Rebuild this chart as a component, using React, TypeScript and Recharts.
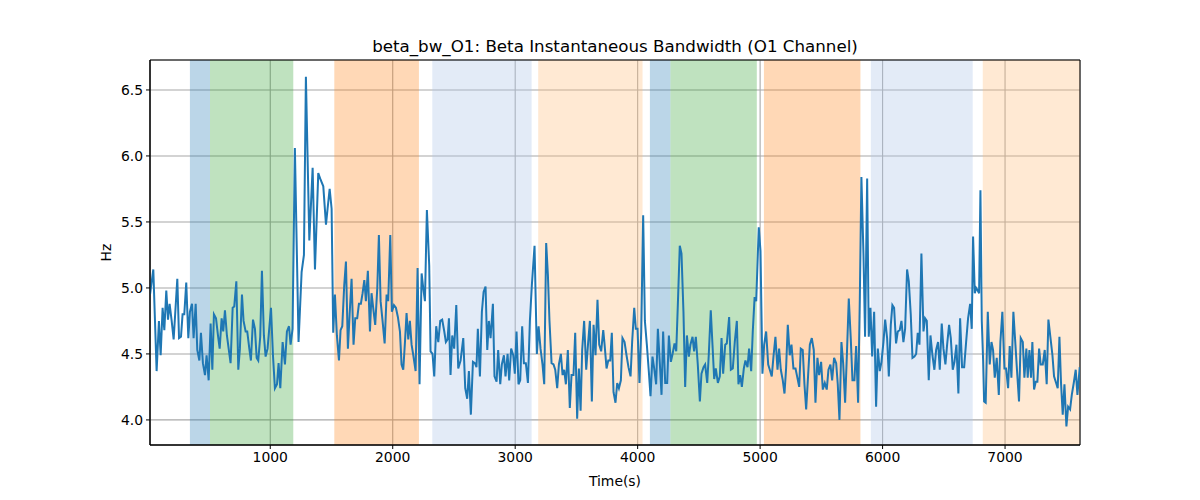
import React from 'react';
import { LineChart, Line, XAxis, YAxis, CartesianGrid, ReferenceArea, Label } from 'recharts';

const FONT = '"DejaVu Sans", sans-serif';
const TITLE = 'beta_bw_O1: Beta Instantaneous Bandwidth (O1 Channel)';
const X_LABEL = 'Time(s)';
const Y_LABEL = 'Hz';

const xTicks = [1000, 2000, 3000, 4000, 5000, 6000, 7000];
const yTicks = [4.0, 4.5, 5.0, 5.5, 6.0, 6.5];
const xDomain = [18, 7612];
const yDomain = [3.81, 6.727];

const spanStarts = [344, 508, 1523, 2323, 3188, 4100, 4268, 5031, 5904, 6818];
const spanEnds = [508, 1188, 2214, 3134, 4040, 4268, 4973, 5819, 6736, 7612];
const spanKinds = ['blue', 'green', 'orange', 'lightblue', 'lightorange', 'blue', 'green', 'orange', 'lightblue', 'lightorange'];

const spanColors: Record<string, [string, number]> = {
  blue: ['#1f77b4', 0.3],
  green: ['#2ca02c', 0.3],
  orange: ['#ff7f0e', 0.3],
  lightblue: ['#aec7e8', 0.35],
  lightorange: ['#ffbb78', 0.33],
};

const times = [
  18, 45, 72, 91, 105, 121, 135, 151, 165, 178, 195, 211, 241, 255, 271, 284, 298, 314, 331, 344,
  361, 374, 391, 404, 421, 434, 450, 467, 480, 497, 513, 527, 540, 557, 573, 587, 603, 616, 630, 646,
  676, 693, 706, 723, 739, 752, 769, 782, 799, 812, 829, 842, 859, 875, 889, 902, 918, 932, 948, 962,
  978, 1006, 1022, 1038, 1055, 1068, 1082, 1101, 1120, 1136, 1153, 1166, 1182, 1201, 1231, 1256,
  1275, 1291, 1319, 1346, 1365, 1392, 1411, 1433, 1455, 1468, 1485, 1501, 1514, 1528, 1544, 1561, 1574, 1588,
  1604, 1618, 1634, 1648, 1664, 1680, 1694, 1710, 1724, 1740, 1754, 1768, 1781, 1797, 1814, 1827, 1844, 1857,
  1874, 1887, 1901, 1917, 1934, 1950, 1963, 1980, 1993, 2010, 2026, 2042, 2059, 2072, 2086, 2100, 2113, 2127,
  2140, 2154, 2168, 2187, 2203, 2219, 2236, 2249, 2263, 2279, 2298, 2309, 2325, 2339, 2355, 2372, 2388, 2404,
  2421, 2434, 2448, 2459, 2472, 2486, 2502,
  2519, 2535, 2554, 2576, 2592, 2608, 2622, 2638, 2655, 2671, 2684, 2695, 2712, 2728, 2742, 2758, 2772, 2785,
  2799, 2818, 2831, 2848, 2861, 2878, 2891, 2908, 2921, 2938, 2951, 2967, 2984, 2997, 3011, 3027, 3041, 3057,
  3071, 3087, 3104, 3120, 3136, 3158, 3177, 3191, 3207, 3223, 3237, 3253, 3267, 3280, 3297, 3313, 3327, 3343,
  3357, 3373, 3387, 3400, 3414, 3430, 3446, 3460, 3476, 3490, 3506, 3520, 3534, 3547, 3563, 3580, 3596, 3610,
  3626, 3640, 3656, 3672, 3686, 3702, 3719,
  3730, 3746, 3760, 3776, 3789, 3803, 3819, 3833, 3847, 3863, 3876, 3893, 3909, 3925, 3942, 3955, 3972, 3985,
  3999, 4015, 4029, 4045, 4059, 4075, 4091, 4105, 4121, 4135, 4151, 4165, 4181, 4195, 4208, 4225, 4241, 4255,
  4271, 4285, 4301, 4315, 4328, 4344, 4358, 4374, 4388, 4402, 4418, 4431, 4448, 4461, 4475, 4491, 4508, 4521,
  4538, 4551, 4568, 4581, 4597, 4611, 4625, 4638, 4655, 4671, 4685, 4698, 4715, 4728, 4747, 4761, 4777, 4793,
  4810, 4823, 4837, 4851, 4867, 4880, 4897, 4910, 4927, 4940,
  4955, 4968, 4989, 5003, 5019, 5033, 5049, 5066, 5079, 5095, 5109, 5125, 5142, 5155, 5169, 5185, 5199, 5212,
  5226, 5242, 5256, 5272, 5289, 5302, 5319, 5332, 5348, 5362, 5376, 5392, 5406, 5422, 5438, 5452, 5468, 5482,
  5498, 5512, 5528, 5544, 5558, 5574, 5588, 5604, 5621, 5634, 5648, 5664, 5678, 5694, 5708, 5724, 5740, 5754,
  5770, 5784, 5800, 5814, 5827, 5844, 5857, 5874, 5887, 5901, 5915, 5931, 5947, 5961, 5977, 5991, 6007, 6021,
  6037, 6051, 6067, 6080, 6094, 6110, 6124, 6140, 6154, 6170,
  6184, 6200, 6214, 6230, 6244, 6260, 6274, 6287, 6301, 6317, 6334, 6347, 6361, 6377, 6391, 6407, 6423, 6437,
  6453, 6467, 6483, 6497, 6513, 6527, 6543, 6557, 6573, 6587, 6603, 6619, 6633, 6649, 6666, 6682, 6698, 6715,
  6728, 6739, 6753, 6764, 6777, 6788, 6799, 6810, 6821, 6829, 6842, 6859, 6875, 6889, 6902, 6916, 6932, 6949,
  6962, 6978, 6995, 7008, 7025, 7038, 7052, 7068, 7082, 7098, 7114, 7128, 7145, 7158, 7174, 7185, 7199, 7212,
  7223, 7237, 7251, 7264, 7278, 7291, 7308, 7324, 7340, 7354, 7370, 7387, 7400, 7417, 7430, 7444, 7457, 7471,
  7485, 7501, 7515, 7531, 7545, 7561, 7577, 7591, 7610,
];

const values = [
  4.95, 5.14, 4.37, 4.75, 4.49, 4.85, 4.68, 4.98, 4.76, 4.88, 4.75, 4.61, 5.07, 4.62, 4.63, 4.8, 4.8, 5.04, 4.62, 4.82,
  4.88, 4.62, 4.88, 4.53, 4.45, 4.66, 4.43, 4.34, 4.49, 4.3, 4.73, 4.38, 4.8, 4.77, 4.64, 4.54, 4.77, 4.67, 4.83, 4.64,
  4.43, 4.85, 4.86, 5.05, 4.38, 4.54, 4.95, 4.75, 4.67, 4.67, 4.54, 4.45, 4.76, 4.69, 4.47, 4.45, 4.63, 5.13, 4.64, 4.48,
  4.54, 4.85, 4.49, 4.24, 4.27, 4.43, 4.24, 4.59, 4.42, 4.67, 4.71, 4.57, 4.69, 6.06, 4.59, 5.12,
  5.25, 6.6, 5.36, 5.91, 5.14, 5.87, 5.82, 5.77, 5.48, 5.6, 5.75, 5.6, 4.66, 4.95, 4.64, 4.45, 4.68, 4.71,
  5.02, 5.2, 4.54, 4.8, 5.07, 4.57, 4.77, 4.77, 4.88, 4.88, 4.96, 5.06, 4.9, 5.13, 4.67, 4.96, 4.82, 4.72,
  5.0, 5.4, 4.9, 4.75, 4.58, 4.95, 4.9, 5.4, 4.82, 4.87, 4.85, 4.78, 4.67, 4.42, 4.38, 4.59, 4.81, 4.61,
  4.75, 4.57, 4.49, 4.37, 5.15, 4.27, 5.11, 5.0, 4.9, 5.59, 5.17, 4.52, 4.5, 4.33, 4.71, 4.59, 4.75, 4.76,
  4.67, 4.59, 4.61, 4.77, 4.34, 4.64, 4.54,
  4.87, 4.39, 4.45, 4.62, 4.24, 4.16, 4.37, 4.04, 4.44, 4.43, 4.4, 4.69, 4.33, 4.82, 4.97, 5.01, 4.53, 4.75,
  4.62, 4.88, 4.33, 4.29, 4.53, 4.27, 4.42, 4.49, 4.33, 4.5, 4.3, 4.54, 4.49, 4.35, 4.67, 4.27, 4.3, 4.71,
  4.43, 4.43, 4.28, 4.75, 5.02, 5.32, 4.5, 4.71, 4.54, 4.42, 4.27, 5.34, 5.1, 4.75, 4.43, 4.42, 4.38, 4.24,
  4.42, 4.5, 4.34, 4.38, 4.27, 4.53, 4.09, 4.34, 4.34, 4.66, 4.01, 4.39, 4.07, 4.53, 4.75, 4.38, 4.59, 4.75,
  4.14, 4.72, 4.49, 4.91, 4.57, 4.52, 4.68,
  4.57, 4.39, 4.45, 4.45, 4.66, 4.21, 4.13, 4.28, 4.24, 4.3, 4.62, 4.59, 4.49, 4.4, 4.33, 4.59, 4.85, 4.69,
  4.69, 4.28, 4.67, 5.55, 4.75, 4.57, 4.37, 4.18, 4.48, 4.39, 4.27, 4.69, 4.43, 4.19, 4.67, 4.28, 4.28, 4.64,
  4.44, 4.5, 4.58, 4.52, 4.87, 5.32, 5.26, 4.82, 4.25, 4.64, 4.48, 4.57, 4.63, 4.52, 4.63, 4.42, 4.14, 4.35,
  4.4, 4.42, 4.28, 4.5, 4.83, 4.57, 4.31, 4.39, 4.28, 4.33, 4.62, 4.35, 4.57, 4.58, 4.78, 4.38, 4.39, 4.59,
  4.75, 4.27, 4.34, 4.25, 4.39, 4.45, 4.4, 4.54, 4.37, 4.67,
  4.93, 4.9, 5.46, 5.28, 4.35, 4.57, 4.67, 4.42, 4.38, 4.33, 4.48, 4.63, 4.38, 4.54, 4.38, 4.3, 4.2, 4.39,
  4.72, 4.49, 4.57, 4.39, 4.39, 4.33, 4.25, 4.54, 4.53, 4.27, 4.08, 4.34, 4.57, 4.62, 4.53, 4.13, 4.47, 4.34,
  4.44, 4.23, 4.28, 4.23, 4.38, 4.42, 4.3, 4.47, 4.43, 4.27, 4.0, 4.59, 4.43, 4.13, 4.48, 4.92, 4.62, 4.3,
  4.3, 4.56, 4.13, 4.91, 5.84, 5.25, 4.63, 5.83, 4.63, 4.85, 4.48, 4.82, 4.1, 4.54, 4.37, 4.44, 4.59, 4.76,
  4.62, 4.33, 4.72, 4.87, 4.85, 4.58, 4.67, 4.68, 4.75, 4.59,
  4.69, 5.14, 5.05, 4.8, 4.47, 4.48, 4.5, 4.66, 4.57, 5.26, 4.67, 4.77, 4.75, 4.3, 4.64, 4.49, 4.38, 4.53,
  4.59, 4.38, 4.73, 4.54, 4.42, 4.57, 4.72, 4.62, 4.38, 4.44, 4.57, 4.2, 4.77, 4.4, 4.4, 4.59, 4.77, 4.88,
  4.69, 5.39, 4.96, 5.0, 4.98, 4.96, 5.74, 4.75, 4.45, 4.14, 4.13, 4.82, 4.42, 4.59, 4.53, 4.32, 4.47, 4.19,
  4.59, 4.82, 4.39, 4.39, 4.24, 4.56, 4.32, 4.82, 4.61, 4.37, 4.14, 4.62, 4.59, 4.32, 4.54, 4.32, 4.53, 4.32,
  4.59, 4.23, 4.29, 4.29, 4.54, 4.42, 4.42, 4.53, 4.27, 4.76, 4.63, 4.49, 4.33, 4.28, 4.24, 4.63, 4.28, 4.04,
  4.27, 3.95, 4.1, 4.08, 4.19, 4.28, 4.38, 4.19, 4.4,
];

const data = times.map((t, i) => ({ t, v: values[i] }));

const tickStyle = { fill: '#000', fontSize: 13.9, fontFamily: FONT };

const YLabel = (props: any) => {
  const vb = props.viewBox || {};
  const cx = vb.x + 16;
  const cy = vb.y + vb.height / 2;
  return (
    <text x={cx} y={cy} transform={`rotate(-90, ${cx}, ${cy})`} textAnchor="middle" dominantBaseline="central"
      fontSize={13.9} fontFamily={FONT} fill="#000">{Y_LABEL}</text>
  );
};

const XLabel = (props: any) => {
  const vb = props.viewBox || {};
  const cx = vb.x + vb.width / 2;
  return (
    <text x={cx} y={486} textAnchor="middle" fontSize={13.9} fontFamily={FONT} fill="#000">{X_LABEL}</text>
  );
};

export default function App() {
  return (
    <div style={{ position: 'absolute', left: 0, top: 0, width: 1200, height: 500, background: '#fff' }}>
      <svg style={{ position: 'absolute', left: 0, top: 0 }} width={1200} height={60}>
        <text x={615} y={52} textAnchor="middle" fontSize={16.7} fontFamily={FONT} fill="#000">{TITLE}</text>
      </svg>
      <LineChart width={1200} height={500} data={data} margin={{ top: 60, right: 120, bottom: 14, left: 90 }}>
        <CartesianGrid stroke="#a8a8a8" strokeWidth={1.1} />
        {spanStarts.map((s, i) => (
          <ReferenceArea key={i} x1={s} x2={spanEnds[i]} y1={yDomain[0]} y2={yDomain[1]}
            fill={spanColors[spanKinds[i]][0]} fillOpacity={spanColors[spanKinds[i]][1]} stroke="none" ifOverflow="hidden" />
        ))}
        <XAxis dataKey="t" type="number" domain={xDomain} ticks={xTicks} allowDataOverflow
          height={41} tick={tickStyle} tickSize={4} tickMargin={3} stroke="#000" tickLine={{ stroke: '#000' }}>
          <Label content={<XLabel />} />
        </XAxis>
        <YAxis type="number" domain={yDomain} ticks={yTicks} allowDataOverflow width={60}
          tick={tickStyle} tickSize={4} tickMargin={3} stroke="#000" tickLine={{ stroke: '#000' }}
          tickFormatter={(v: number) => v.toFixed(1)}>
          <Label content={<YLabel />} />
        </YAxis>
        <Line type="linear" dataKey="v" stroke="#1f77b4" strokeWidth={2} dot={false} isAnimationActive={false} />
        <ReferenceArea x1={xDomain[0]} x2={xDomain[1]} y1={yDomain[0]} y2={yDomain[1]} fill="none" stroke="#000" strokeWidth={1} fillOpacity={0} />
      </LineChart>
    </div>
  );
}
